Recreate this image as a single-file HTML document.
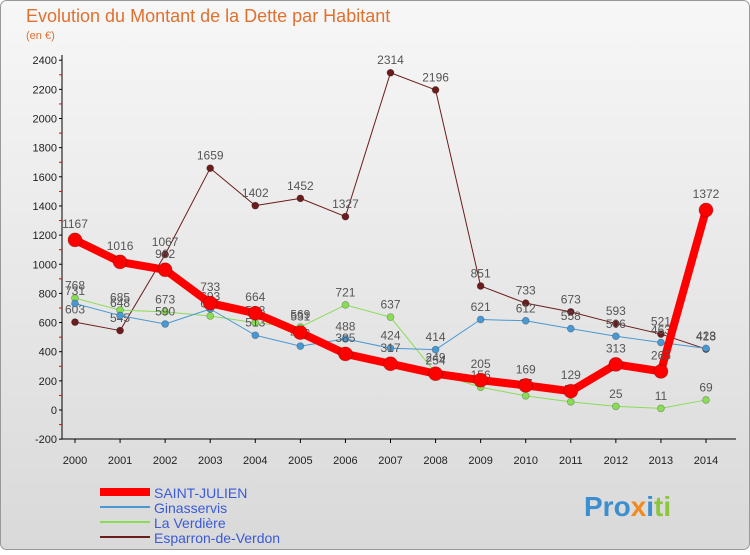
<!DOCTYPE html>
<html><head><meta charset="utf-8"><style>
body{margin:0;width:750px;height:550px;overflow:hidden;font-family:"Liberation Sans",sans-serif}
</style></head><body>
<svg width="750" height="550" xmlns="http://www.w3.org/2000/svg">
<defs><linearGradient id="bg" x1="0" y1="0" x2="0" y2="1"><stop offset="0" stop-color="#f7f7f7"/><stop offset="1" stop-color="#d9d9d9"/></linearGradient></defs>
<rect x="0.5" y="0.5" width="749" height="549" rx="6" fill="url(#bg)" stroke="#999"/>
<text x="26" y="22" font-size="18" fill="#e0702e">Evolution du Montant de la Dette par Habitant</text>
<text x="26" y="39" font-size="11" fill="#e0702e">(en €)</text>
<g id="axes"></g>
<g id="series"></g>
<g id="legend"></g>
<text x="584" y="516" font-size="28" font-weight="bold"><tspan fill="#3a8fd0">Pro</tspan><tspan fill="#f08a1e">x</tspan><tspan fill="#3a8fd0">i</tspan><tspan fill="#8cc63f">ti</tspan></text>
</svg>
<script>
const years=[2000,2001,2002,2003,2004,2005,2006,2007,2008,2009,2010,2011,2012,2013,2014];
const yTicks=[-200,0,200,400,600,800,1000,1200,1400,1600,1800,2000,2200,2400];
const seriesNames=["SAINT-JULIEN","Ginasservis","La Verdière","Esparron-de-Verdon"];
const saintJulien=[1167,1016,962,733,664,531,385,317,249,205,169,129,313,265,1372];
const ginasservis=[731,648,590,693,513,438,488,424,414,621,612,558,506,463,423];
const laVerdiere=[768,685,673,645,598,569,721,637,254,156,97,56,25,11,69];
const esparron=[603,545,1067,1659,1402,1452,1327,2314,2196,851,733,673,593,521,418];
const NS="http://www.w3.org/2000/svg";
const xs=i=>75+i*(706-75)/14;
const ys=v=>410-v*(29.15/200);
function mk(t,a,p){const e=document.createElementNS(NS,t);for(const k in a)e.setAttribute(k,a[k]);p.appendChild(e);return e;}
const ax=document.getElementById('axes');
const yl=mk('line',{x1:62,y1:55,x2:62,y2:439,stroke:'#000','stroke-width':1},ax);


const xl=mk('line',{x1:62,y1:439,x2:736,y2:439,stroke:'#000','stroke-width':1},ax);


yTicks.forEach((v,k)=>{
 const y=ys(v);
 mk('line',{x1:59,y1:y,x2:62,y2:y,stroke:'#000'},ax);
 if(k>0) mk('line',{x1:59,y1:y+14.6,x2:62,y2:y+14.6,stroke:'#e00'},ax);
 const t=mk('text',{x:57,y:y+4,'font-size':11,'text-anchor':'end',fill:'#222'},ax);
 t.textContent=v;
 
 
});
years.forEach((yr,i)=>{
 const x=xs(i);
 mk('line',{x1:x,y1:439,x2:x,y2:443,stroke:'#000'},ax);
 const t=mk('text',{x:x,y:464,'font-size':11,'text-anchor':'middle',fill:'#222'},ax);
 t.textContent=yr;
 
 
});
const sg=document.getElementById('series');
const defs=[[esparron,'#6b1c1c',1,3.5,'esparron'],[laVerdiere,'#88dd55',1,3.5,'la-verdiere'],[ginasservis,'#4a98d2',1,3.5,'ginasservis'],[saintJulien,'#ff0000',8,7,'saint-julien']];
defs.forEach(([d,c,w,r,n])=>{
 const g=mk('g',{},sg);
 
 
 const pl=mk('polyline',{points:d.map((v,i)=>xs(i)+','+ys(v)).join(' '),fill:'none',stroke:c,'stroke-width':w,'stroke-linejoin':'round'},g);
 
 
 d.forEach((v,i)=>{
  const p=mk('circle',{cx:xs(i),cy:ys(v),r:r,fill:c,stroke:'rgba(0,0,0,0.25)','stroke-width':0.8},g);
  
  
  const t=mk('text',{x:xs(i),y:ys(v)-(r+5),'font-size':12,'text-anchor':'middle',fill:'#555'},g);
  t.textContent=v;
  
  
 });
});
const lg=document.getElementById('legend');
const lc=['#ff0000','#4a98d2','#88dd55','#6b1c1c'],lw=[8,2,2,2];
seriesNames.forEach((s,i)=>{
 const y=492+i*15;
 const g=mk('g',{},lg);
 
 
 mk('line',{x1:100,y1:y,x2:150,y2:y,stroke:lc[i],'stroke-width':lw[i]},g);
 const t=mk('text',{x:154,y:y+6,'font-size':14,fill:'#3a5ad8'},g);
 t.textContent=s;
});
</script>
</body></html>
